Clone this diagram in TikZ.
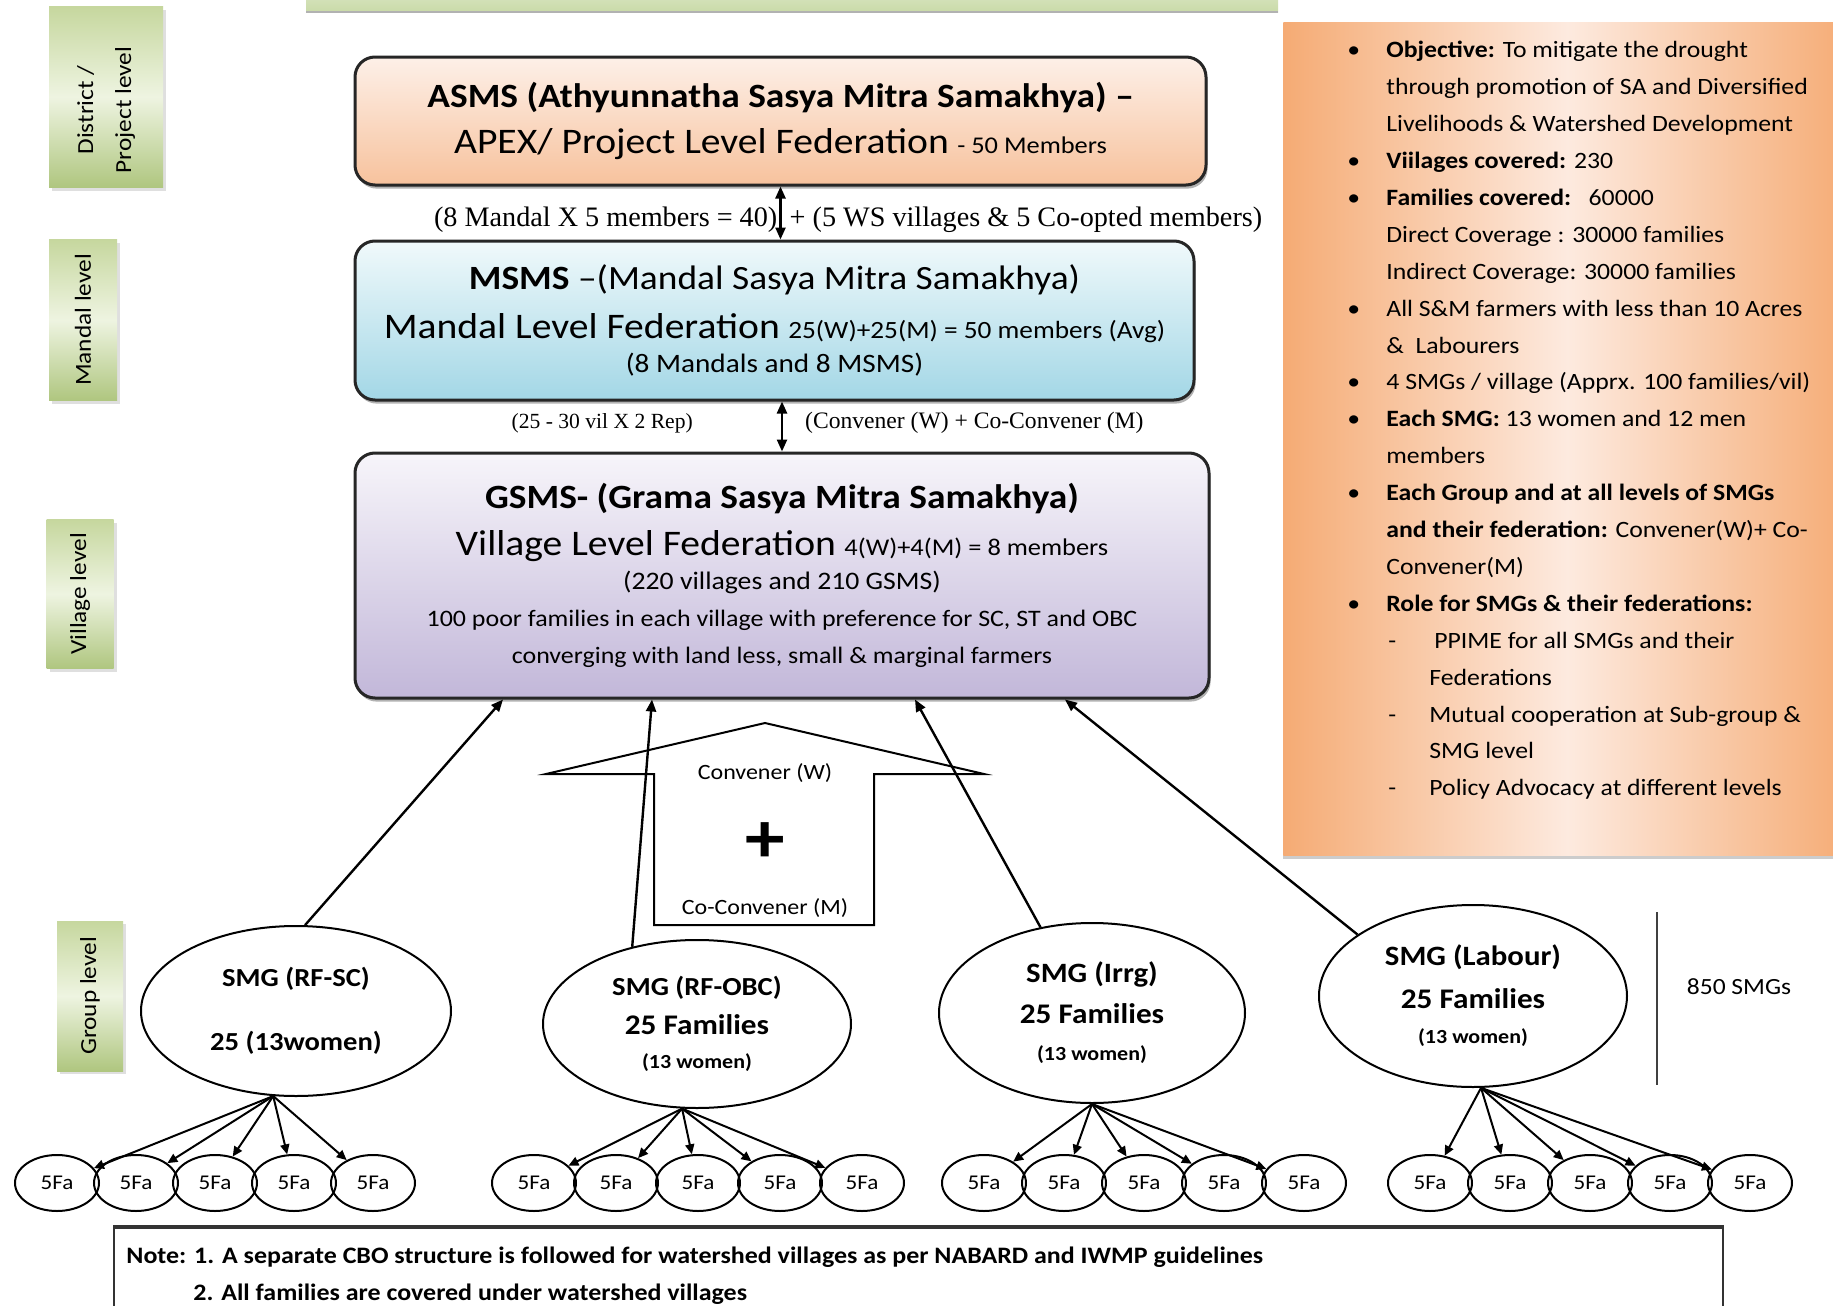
\documentclass[tikz,border=0pt]{standalone}
\usepackage{fontspec}
\setmainfont{Carlito}[FakeStretch=1.1]
\newfontfamily\timesfont{Liberation Serif}
\usetikzlibrary{positioning,calc,shapes.geometric,shadows,arrows.meta}

\definecolor{lvlEdge}{HTML}{C6D79E}
\definecolor{lvlMid}{HTML}{EEF4E1}
\definecolor{lvlDark}{HTML}{AFC67F}
\definecolor{bannerTop}{HTML}{E9F0DB}
\definecolor{bannerBot}{HTML}{C9DAA8}
\definecolor{asmsTop}{HTML}{FDF0E8}
\definecolor{asmsBot}{HTML}{F7C29D}
\definecolor{msmsTop}{HTML}{F0F9FB}
\definecolor{msmsBot}{HTML}{A3D7E6}
\definecolor{gsmsTop}{HTML}{F7F5FA}
\definecolor{gsmsBot}{HTML}{C2B7D9}
\definecolor{panelEdge}{HTML}{F5AB74}
\definecolor{panelMid}{HTML}{FDEADF}

\newcommand{\fsz}[2]{\fontsize{#1pt}{#2pt}\selectfont}
\newcommand{\bul}{\makebox[19.5pt][l]{\textbullet}}
\newcommand{\cont}{\hspace*{19.5pt}}
\newcommand{\subi}{\hspace*{20.5pt}\makebox[20.5pt][l]{-}}
\newcommand{\subc}{\hspace*{41pt}}

\tikzset{
  lvlbox/.style={rotate=90, top color=lvlEdge, bottom color=lvlDark, middle color=lvlMid,
    inner sep=0pt, align=center, font=\fsz{11.5}{19},
    drop shadow={shadow xshift=1.5pt, shadow yshift=-1.5pt, opacity=0.25}},
  fedbox/.style={draw=black!85, line width=1.5pt, rounded corners=10pt, inner sep=0pt, align=center,
    drop shadow={shadow xshift=0.8pt, shadow yshift=-1.8pt, opacity=0.6}},
  smg/.style={draw, ellipse, line width=1pt, inner sep=0pt, align=center, font=\bfseries\fsz{13}{16}},
  fa/.style={draw, ellipse, line width=1pt, inner sep=0pt, minimum width=42pt, minimum height=28pt,
    font=\fsz{10.5}{12}},
  uplink/.style={-{Triangle[length=6pt,width=5pt]}, line width=1.2pt},
  fan/.style={-{Triangle[length=5pt,width=4.5pt]}, line width=1pt},
  dbl/.style={{Triangle[length=6pt,width=5pt]}-{Triangle[length=6pt,width=5pt]}, line width=1.2pt},
}

\begin{document}
\begin{tikzpicture}[x=0.5pt, y=-0.5pt]
\useasboundingbox (0,0) rectangle (1833,1306);
\clip (0,0) rectangle (1833,1306);
\fill[white] (0,0) rectangle (1833,1306);

% banner cut by the top edge
\shade[top color=bannerTop, bottom color=bannerBot] (306,-30) rectangle (1278,12);
\draw[black!30, line width=1pt] (306,12) -- (1278,12);

% levels
\node[lvlbox, minimum width=90.5pt, minimum height=57pt] (lvdist) at (106,97)
  {District /\hspace*{13pt}\\Project level\hspace*{13pt}};
\node[lvlbox, minimum width=80.5pt, minimum height=34pt] (lvmandal) at (83,320) {Mandal level};
\node[lvlbox, minimum width=74.5pt, minimum height=33.5pt] (lvvillage) at (80,594) {Village level};
\node[lvlbox, minimum width=75pt, minimum height=33pt] (lvgroup) at (90,996) {Group level};

% federations
\node[fedbox, top color=asmsTop, bottom color=asmsBot, minimum width=425.5pt, minimum height=64pt,
  font=\fsz{17}{25}] (asms) at (780.5,121)
  {\textbf{ASMS (Athyunnatha Sasya Mitra Samakhya) –}\\[-1.75pt]
   {\fsz{18}{25}APEX/ Project Level Federation} {\fsz{12}{14}- 50 Members}};
\node[fedbox, top color=msmsTop, bottom color=msmsBot, minimum width=419.5pt, minimum height=79.5pt,
  font=\fsz{17}{22.5}] (msms) at (774.5,320.5)
  {\textbf{MSMS} –(Mandal Sasya Mitra Samakhya)\\[1.75pt]
   {\fsz{18}{22}Mandal Level Federation} {\fsz{12.4}{14}25(W)+25(M) = 50 members (Avg)}\\[-5.5pt]
   {\fsz{13.3}{15}(8 Mandals and 8 MSMS)}};
\node[fedbox, top color=gsmsTop, bottom color=gsmsBot, minimum width=427pt, minimum height=122.5pt,
  font=\fsz{17}{18.5}] (gsms) at (782,575.5)
  {\textbf{GSMS- (Grama Sasya Mitra Samakhya)}\\[5.2pt]
   {\fsz{18}{20}Village Level Federation} {\fsz{12}{14}4(W)+4(M) = 8 members}\\[-1.5pt]
   {\fsz{12.6}{14}(220 villages and 210 GSMS)}\\[0.1pt]
   {\fsz{11.8}{14}100 poor families in each village with preference for SC, ST and OBC}\\
   {\fsz{11.8}{14}converging with land less, small \& marginal farmers}};

\draw[dbl] (asms.south) --
  node[pos=0.62, left, inner sep=1pt, font=\timesfont\fsz{14.1}{16}] (apexL) {(8 Mandal X 5 members = 40)}
  node[pos=0.62, right, inner sep=4pt, font=\timesfont\fsz{14.1}{16}] (apexR) {+ (5 WS villages \& 5 Co-opted members)}
  (asms.south |- msms.north);
\draw[dbl] (msms.south -| gsms.north) --
  node[pos=0.43, left=44pt, inner sep=0pt, font=\timesfont\fsz{10.8}{12}] (repL) {(25 - 30 vil X 2 Rep)}
  node[pos=0.43, right=11pt, inner sep=0pt, font=\timesfont\fsz{11.8}{13}] (repR) {(Convener (W) + Co-Convener (M)}
  (gsms.north);

% convener arrow
\draw[line width=1pt] (546,774) -- (765,723) -- (984,774) -- (874,774) -- (874,925) -- (654,925) -- (654,774) -- cycle;
\node[font=\fsz{10.9}{13}] (convW) at (765,773) {Convener (W)};
\node[font=\bfseries\fsz{36}{36}] (plus) at (765,843) {+};
\node[font=\fsz{10.9}{13}] (coconvM) at (765,908) {Co-Convener (M)};

% groups
\node[smg, minimum width=155pt, minimum height=85pt] (smgsc) at (296,1011) {SMG (RF-SC)\\[16pt]25 (13women)};
\node[smg, minimum width=154pt, minimum height=84pt] (smgobc) at (697,1024)
  {SMG (RF-OBC)\\[3.5pt]{\fsz{14.2}{16}25 Families}\\[1pt]{\fsz{10}{11}(13 women)}};
\node[smg, minimum width=153pt, minimum height=90pt, font=\bfseries\fsz{14}{16}] (smgirr) at (1092,1013)
  {SMG (Irrg)\\[4.5pt]{\fsz{14.2}{16}25 Families}\\[2.5pt]{\fsz{10}{11}(13 women)}};
\node[smg, minimum width=154pt, minimum height=91pt, font=\bfseries\fsz{14}{16}] (smglab) at (1473,996)
  {SMG (Labour)\\[5.5pt]{\fsz{14.2}{16}25 Families}\\[1.5pt]{\fsz{10}{11}(13 women)}};

\draw[uplink] (smgsc.84) -- ($(gsms.south)+(-279,0)$);
\draw[uplink] (smgobc.130) -- ($(gsms.south)+(-130,0)$);
\draw[uplink] (smgirr.121) -- ($(gsms.south)+(133,0)$);
\draw[uplink] (smglab.152) -- ($(gsms.south)+(283,0)$);

\draw[line width=1pt, black!75] (1657,912) -- (1657,1085);
\node[font=\fsz{11.6}{13}] (smgcount) at (1739,987) {850 SMGs};

% families of five
\foreach \x [count=\i] in {57,136,215,294,373}
  \node[fa] (fasc\i) at (\x,1183) {5Fa};
\foreach \x [count=\i] in {534,616,698,780,862}
  \node[fa] (faobc\i) at (\x,1183) {5Fa};
\foreach \x [count=\i] in {984,1064,1144,1224,1304}
  \node[fa] (fairr\i) at (\x,1183) {5Fa};
\foreach \x [count=\i] in {1430,1510,1590,1670,1750}
  \node[fa] (falab\i) at (\x,1183) {5Fa};
\foreach \i in {1,...,5} {
  \draw[fan] (smgsc.255) -- (fasc\i);
  \draw[fan] (smgobc.260) -- (faobc\i);
  \draw[fan] (smgirr.270) -- (fairr\i);
  \draw[fan] (smglab.275) -- (falab\i);
}

% facts
\node[anchor=north west, minimum width=284pt, minimum height=416.5pt, inner sep=0pt,
  left color=panelEdge, right color=panelEdge, middle color=panelMid,
  drop shadow={shadow xshift=0pt, shadow yshift=-2pt, opacity=0.4}] (panel) at (1283,22) {};
\node[anchor=north west, inner sep=0pt, align=left, font=\fsz{11.7}{18.45}] (facts) at (1347,41)
  {\bul\textbf{Objective:} To mitigate the drought\\
   \cont through promotion of SA and Diversified\\
   \cont Livelihoods \& Watershed Development\\
   \bul\textbf{Viilages covered:} 230\\
   \bul\textbf{Families covered:}\ \ \ 60000\\
   \cont Direct Coverage : 30000 families\\
   \cont Indirect Coverage: 30000 families\\
   \bul All S\&M farmers with less than 10 Acres\\
   \cont\&\ \ Labourers\\
   \bul 4 SMGs / village (Apprx. 100 families/vil)\\
   \bul\textbf{Each SMG:} 13 women and 12 men\\
   \cont members\\
   \bul\textbf{Each Group and at all levels of SMGs}\\
   \cont\textbf{and their federation:} Convener(W)+ Co-\\
   \cont Convener(M)\\
   \bul\textbf{Role for SMGs \& their federations:}\\
   \subi\hspace*{2.5pt}PPIME for all SMGs and their\\
   \subc Federations\\
   \subi Mutual cooperation at Sub-group \&\\
   \subc SMG level\\
   \subi Policy Advocacy at different levels};

% note
\node[draw=black!80, line width=1pt, anchor=north west, minimum width=804.5pt, minimum height=60pt,
  inner sep=0pt] (notebox) at (113,1227) {};
\draw[line width=2pt, black!80] (notebox.north west) -- (notebox.north east);
\node[anchor=north west, align=left, inner sep=0pt, font=\bfseries\fsz{11.8}{18.5}] (notetext) at (126,1247)
  {Note: 1. A separate CBO structure is followed for watershed villages as per NABARD and IWMP guidelines\\
   \hspace*{33.5pt}2. All families are covered under watershed villages};
\end{tikzpicture}
\end{document}
